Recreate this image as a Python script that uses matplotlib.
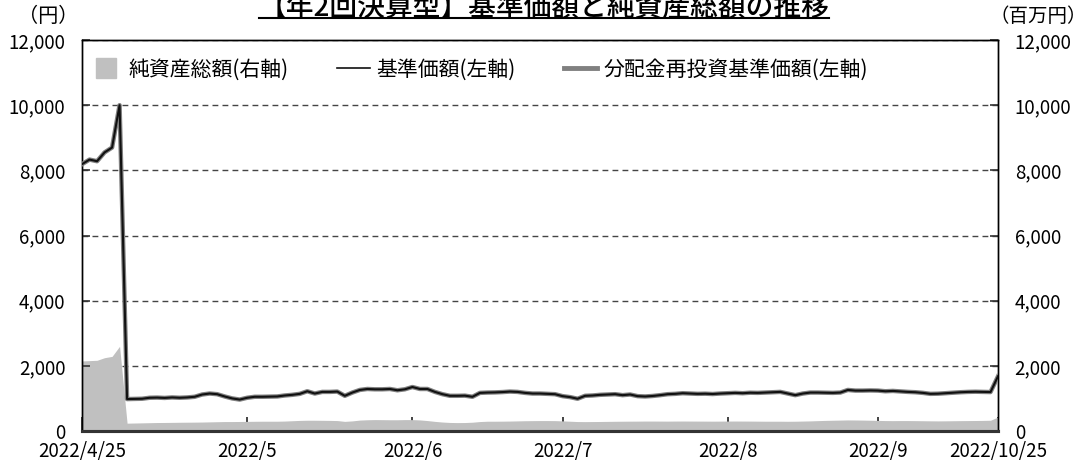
import numpy as np
import matplotlib
matplotlib.use("Agg")
import matplotlib.pyplot as plt
from matplotlib.lines import Line2D
from matplotlib.ticker import FuncFormatter, FixedLocator

plt.rcParams['font.family'] = ['Noto Sans CJK JP', 'DejaVu Sans']

# ---- data ----
title = "【年2回決算型】基準価額と純資産総額の推移"
nav = [8190, 8330, 8280, 8550, 8700, 10000, 980, 985, 990, 1020,
       1025, 1015, 1030, 1020, 1030, 1050, 1120, 1150, 1130, 1060,
       1000, 965, 1020, 1050, 1050, 1055, 1060, 1090, 1110, 1140,
       1220, 1150, 1200, 1200, 1210, 1080, 1180, 1260, 1290, 1280,
       1280, 1290, 1250, 1280, 1350, 1290, 1290, 1200, 1130, 1080,
       1080, 1085, 1050, 1170, 1180, 1185, 1195, 1210, 1200, 1170,
       1150, 1150, 1140, 1130, 1070, 1040, 990, 1080, 1090, 1110,
       1120, 1130, 1100, 1120, 1070, 1060, 1075, 1100, 1130, 1140,
       1160, 1150, 1140, 1145, 1135, 1150, 1160, 1170, 1160, 1175,
       1170, 1180, 1190, 1200, 1150, 1100, 1150, 1180, 1180, 1175,
       1170, 1180, 1260, 1240, 1240, 1245, 1240, 1220, 1230, 1215,
       1200, 1190, 1170, 1140, 1145, 1160, 1175, 1190, 1200, 1205,
       1200, 1195, 1680]
nav_reinvest = list(nav)
net_assets = [2150, 2160, 2170, 2250, 2290, 2600, 240, 245, 250, 255,
              260, 262, 265, 268, 270, 272, 275, 280, 285, 290,
              290, 292, 295, 298, 300, 300, 300, 305, 315, 325,
              330, 330, 328, 325, 320, 295, 310, 335, 345, 350,
              348, 345, 345, 350, 350, 340, 320, 295, 275, 262,
              258, 260, 270, 290, 300, 300, 302, 305, 310, 315,
              318, 320, 320, 318, 310, 300, 290, 288, 290, 292,
              295, 298, 300, 302, 303, 305, 305, 304, 303, 305,
              306, 305, 304, 303, 302, 303, 305, 306, 305, 304,
              302, 300, 300, 300, 298, 300, 305, 310, 318, 325,
              330, 335, 340, 338, 335, 330, 325, 320, 318, 320,
              320, 318, 315, 312, 310, 312, 315, 318, 320, 322,
              325, 330, 430]
yticks = [0, 2000, 4000, 6000, 8000, 10000, 12000]
xtick_idx = [0, 22, 44, 64, 86, 106, 122]
xtick_labels = ["2022/4/25", "2022/5", "2022/6", "2022/7", "2022/8", "2022/9", "2022/10/25"]

x = np.arange(len(nav))

fig = plt.figure(figsize=(10.88, 4.62), dpi=100)
ax2 = fig.add_axes([0.0754, 0.0671, 0.8419, 0.8463])
ax = ax2.twinx()
ax.set_zorder(ax2.get_zorder() + 1)
ax.patch.set_visible(False)

# bottom layer: grid + net assets (right axis)
ax2.set_axisbelow(True)
ax2.fill_between(x, 0, net_assets, color='#c0c0c0', lw=0, zorder=2)
ax2.set_ylim(0, 12000)
ax2.set_xlim(0, len(nav) - 1)
ax2.yaxis.set_major_locator(FixedLocator(yticks))
ax2.grid(axis='y', linestyle=(0, (4.2, 3.0)), color='#444444', lw=1.0, zorder=0)
ax2.yaxis.tick_right()
ax2.yaxis.set_label_position('right')

# top layer: NAV lines (left axis)
ax.yaxis.tick_left()
ax.plot(x, nav_reinvest, color='#808080', lw=3.2, solid_joinstyle='round', zorder=3)
ax.plot(x, nav, color='#111111', lw=1.5, solid_joinstyle='round', zorder=4)
ax.set_ylim(0, 12000)
ax.set_xlim(0, len(nav) - 1)
ax.yaxis.set_major_locator(FixedLocator(yticks))

fmt = FuncFormatter(lambda v, p: f"{int(v):,}")
for a in (ax, ax2):
    a.yaxis.set_major_formatter(fmt)
    for s in a.spines.values():
        s.set_color('black')
        s.set_linewidth(1.0)
    a.spines['bottom'].set_linewidth(2.2)
    a.spines['bottom'].set_color('#333333')

ax.tick_params(axis='y', which='both', left=True, right=False, labelleft=True,
               labelright=False, direction='in', length=6, width=1.2,
               color='#333333', labelsize=13.5, pad=12)
ax2.tick_params(axis='y', which='both', right=True, left=False, labelright=True,
                labelleft=False, direction='in', length=6, width=1.2,
                color='#333333', labelsize=13.5, pad=12)

ax2.xaxis.set_major_locator(FixedLocator(xtick_idx))
ax2.set_xticklabels(xtick_labels)
ax2.tick_params(axis='x', direction='in', length=10, width=1.2, color='#222222',
                labelsize=13.5, pad=7)
ax.tick_params(axis='x', bottom=False, labelbottom=False)

# unit labels
fig.text(48 / 1088, 1 - 17 / 462, "（円）", ha='center', va='center', fontsize=14.5)
fig.text(1038 / 1088, 1 - 17 / 462, "（百万円）", ha='center', va='center', fontsize=14)

# title with underline
t = fig.text(0.5, 1 - 15 / 462, title, ha='center', va='baseline', fontsize=20,
             fontweight='medium')
fig.canvas.draw()
bb = t.get_window_extent(fig.canvas.get_renderer())
fig.add_artist(Line2D([bb.x0 / 1088, bb.x1 / 1088], [1 - 18 / 462, 1 - 18 / 462],
                      transform=fig.transFigure, color='black', lw=1.5))

# legend
handles = [
    Line2D([], [], marker='s', linestyle='none', markersize=15,
           markerfacecolor='#c0c0c0', markeredgecolor='#c0c0c0'),
    Line2D([], [], color='#111111', lw=1.2),
    Line2D([], [], color='#808080', lw=3.5),
]
labels = ["純資産総額(右軸)", "基準価額(左軸)", "分配金再投資基準価額(左軸)"]
ax.legend(handles, labels, loc='upper left', bbox_to_anchor=(-0.0125, 1.0), ncol=3,
          frameon=False, fontsize=15, handlelength=1.6, handletextpad=0.3,
          columnspacing=2.3)

fig.savefig("out.png", dpi=100)
